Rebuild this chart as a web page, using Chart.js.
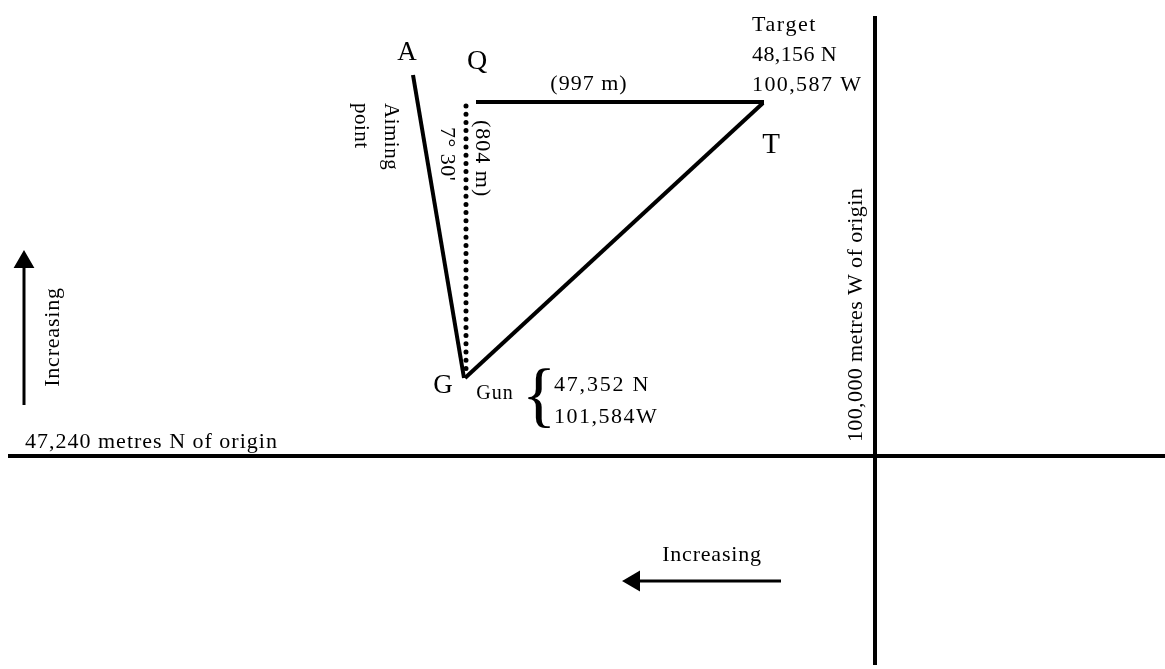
<!DOCTYPE html>
<html>
<head>
<meta charset="utf-8">
<style>html,body{margin:0;padding:0;background:#fff}canvas{display:block}</style>
<script src="https://cdn.jsdelivr.net/npm/chart.js@4"></script>
</head>
<body>
<canvas id="c" width="1165" height="669"></canvas>
<script>
// Diagram is schematic (not to scale): values are in picture units.
const lineAG = [{x:413,y:75},{x:464,y:378}];
const lineQT = [{x:476,y:102},{x:764,y:102}];
const lineGT = [{x:465,y:378},{x:763,y:103}];
const lineGQ = [{x:466,y:106},{x:466,y:372}];
const northing = [{x:8,y:456},{x:1165,y:456}];
const westing = [{x:875,y:16},{x:875,y:665}];
const arrowNorth = [{x:24,y:405},{x:24,y:262}];
const arrowWest = [{x:781,y:581},{x:634,y:581}];
const labels = [
  {t:"A",x:407,y:53,s:27},{t:"Q",x:477,y:62,s:28},{t:"T",x:771,y:145,s:29},{t:"G",x:443,y:386,s:27},
  {t:"Gun",x:495,y:394,s:20,ls:1},
  {t:"Target",x:752,y:25,s:22,a:"left",ls:1.6},{t:"48,156 N",x:752,y:55,s:22,a:"left",ls:0.4},{t:"100,587 W",x:752,y:85,s:22,a:"left",ls:1.4},
  {t:"(997 m)",x:589,y:84,s:22,ls:1},
  {t:"Aiming",x:391,y:103,s:21,a:"left",r:90,ls:0.5},{t:"point",x:361,y:103,s:21,a:"left",r:90,ls:0.5},
  {t:"7° 30'",x:447,y:127,s:22,a:"left",r:90,ls:0.5},{t:"(804 m)",x:482,y:120,s:22,a:"left",r:90,ls:1},
  {t:"{",x:539,y:399,s:72,w:"200"},
  {t:"47,352 N",x:554,y:385,s:22,a:"left",ls:1.8},{t:"101,584W",x:554,y:417,s:22,a:"left",ls:1.5},
  {t:"Increasing",x:53,y:337,s:22,r:-90,ls:0.8},
  {t:"47,240 metres N of origin",x:25,y:442,s:22,a:"left",ls:1},
  {t:"100,000 metres W of origin",x:856,y:315,s:22,r:-90,ls:0.4},
  {t:"Increasing",x:712,y:555,s:22,ls:0.8}
];

const solid = (data,w) => ({data,borderColor:"#000",backgroundColor:"#000",borderWidth:w,pointRadius:0,showLine:true,borderCapStyle:"butt",fill:false,clip:false});
const arrow = (data,rot) => ({...solid(data,3),
  pointStyle:"triangle",
  pointRotation:rot,
  pointRadius:[0,9],
  pointHoverRadius:[0,9]
});
const textPlugin = {
  id:"texts",
  afterDatasetsDraw(chart){
    const {ctx,scales:{x,y}} = chart;
    ctx.save();
    ctx.fillStyle = "#000";
    ctx.textBaseline = "middle";
    for(const l of labels){
      ctx.save();
      ctx.translate(x.getPixelForValue(l.x),y.getPixelForValue(l.y));
      if(l.r) ctx.rotate(l.r*Math.PI/180);
      ctx.textAlign = l.a||"center";
      ctx.letterSpacing = (l.ls||0)+"px";
      ctx.font = (l.w||"400")+" "+l.s+"px 'Liberation Serif', serif";
      ctx.fillText(l.t,0,0);
      ctx.restore();
    }
    ctx.restore();
  }
};
new Chart(document.getElementById("c"),{
  type:"scatter",
  data:{datasets:[
    solid(lineAG,4),solid(lineQT,4),solid(lineGT,4),
    {...solid(lineGQ,5),borderDash:[0,8.2],borderCapStyle:"round"},
    solid(northing,4),solid(westing,4),
    arrow(arrowNorth,0),arrow(arrowWest,-90)
  ]},
  options:{
    responsive:false,animation:false,
    layout:{padding:0,autoPadding:false},
    plugins:{legend:{display:false},tooltip:{enabled:false},title:{display:false}},
    scales:{
      x:{type:"linear",min:0,max:1165,display:false},
      y:{type:"linear",min:0,max:669,reverse:true,display:false}
    }
  },
  plugins:[textPlugin]
});
</script>
</body>
</html>
